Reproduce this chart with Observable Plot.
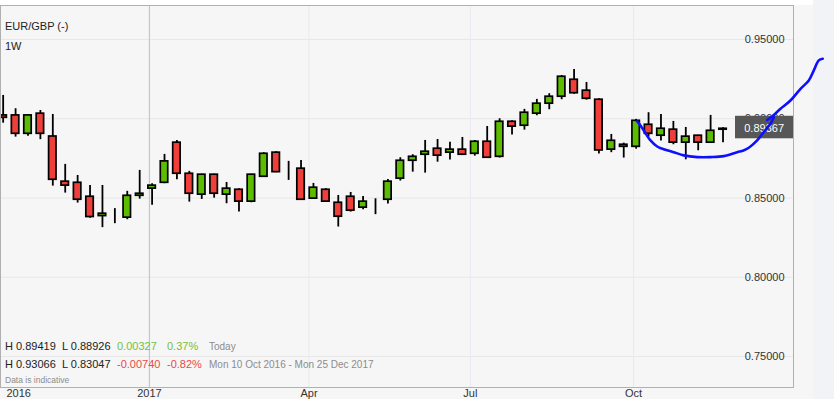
<!DOCTYPE html>
<html><head><meta charset="utf-8">
<script src="https://cdn.jsdelivr.net/npm/d3@7"></script>
<script src="https://cdn.jsdelivr.net/npm/@observablehq/plot@0.6"></script>
<style>
html,body{margin:0;padding:0;}
body{width:834px;height:399px;overflow:hidden;background:#f6f6f6;font-family:"Liberation Sans",Arial,sans-serif;}
#wrap{position:relative;width:834px;height:399px;
 background:linear-gradient(to right, rgba(0,0,0,0) 813px, #f2f3f7 813px), linear-gradient(to bottom, #ffffff 5px, #f6f6f6 5px);}
#wrap svg{position:absolute;left:0;top:0;}
.t{position:absolute;white-space:nowrap;font-size:11px;line-height:13px;color:#222;}
.g{color:#74c23a;} .r{color:#e8484a;} .m{color:#8c8c8c;font-size:10px;}
.s{font-size:8.5px;line-height:10px;color:#8c8c8c;}
</style></head>
<body><div id="wrap">
<div class="t" style="left:5px;top:20px;">EUR/GBP (-)</div>
<div class="t" style="left:5px;top:40px;">1W</div>
<div class="t" style="left:5px;top:340px;">H 0.89419</div>
<div class="t" style="left:62px;top:340px;">L 0.88926</div>
<div class="t g" style="left:117px;top:340px;">0.00327</div>
<div class="t g" style="left:167px;top:340px;">0.37%</div>
<div class="t m" style="left:209px;top:340px;">Today</div>
<div class="t" style="left:5px;top:358px;">H 0.93066</div>
<div class="t" style="left:62px;top:358px;">L 0.83047</div>
<div class="t r" style="left:117px;top:358px;">-0.00740</div>
<div class="t r" style="left:167px;top:358px;">-0.82%</div>
<div class="t m" style="left:209px;top:358px;">Mon 10 Oct 2016 - Mon 25 Dec 2017</div>
<div class="t s" style="left:5px;top:375px;">Data is indicative</div>
</div>
<script>
const weeks = ["2016-10-10","2016-10-17","2016-10-24","2016-10-31","2016-11-07","2016-11-14","2016-11-21","2016-11-28",
"2016-12-05","2016-12-12","2016-12-19","2016-12-26","2017-01-02","2017-01-09","2017-01-16","2017-01-23","2017-01-30",
"2017-02-06","2017-02-13","2017-02-20","2017-02-27","2017-03-06","2017-03-13","2017-03-20","2017-03-27","2017-04-03",
"2017-04-10","2017-04-17","2017-04-24","2017-05-01","2017-05-08","2017-05-15","2017-05-22","2017-05-29","2017-06-05",
"2017-06-12","2017-06-19","2017-06-26","2017-07-03","2017-07-10","2017-07-17","2017-07-24","2017-07-31","2017-08-07",
"2017-08-14","2017-08-21","2017-08-28","2017-09-04","2017-09-11","2017-09-18","2017-09-25","2017-10-02","2017-10-09",
"2017-10-16","2017-10-23","2017-10-30","2017-11-06","2017-11-13","2017-11-20"];
const open  = [.9021,.9021,.8905,.9032,.8888,.8603,.8596,.8508,.8386,.8380,.8376,.8514,.8559,.8596,.8849,.8653,.8521,
.8647,.8521,.8552,.8477,.8634,.8786,.8668,.8685,.8496,.8552,.8470,.8508,.8439,.8493,.8489,.8622,.8735,.8773,
.8811,.8786,.8805,.8779,.8855,.8760,.8981,.8956,.9032,.9095,.9139,.9246,.9177,.9120,.8805,.8836,.8823,.8962,
.8893,.8931,.8849,.8893,.8849,.8931];
const high  = [.9147,.9063,.9024,.9052,.9027,.8712,.8642,.8579,.8579,.8433,.8542,.8674,.8590,.8775,.8863,.8668,.8650,
.8650,.8598,.8559,.8650,.8786,.8792,.8731,.8737,.8592,.8559,.8516,.8535,.8510,.8495,.8617,.8754,.8773,.8863,
.8869,.8851,.8882,.8863,.8951,.9000,.8987,.9059,.9122,.9158,.9273,.9311,.9229,.9126,.8901,.8846,.8996,.9038,
.9027,.8983,.8945,.8895,.9021,.8943];
const low   = [.8972,.8884,.8890,.8868,.8575,.8531,.8468,.8373,.8313,.8338,.8363,.8493,.8455,.8590,.8615,.8474,.8491,
.8499,.8464,.8411,.8470,.8630,.8660,.8611,.8487,.8494,.8475,.8317,.8411,.8426,.8395,.8462,.8607,.8663,.8657,
.8726,.8739,.8773,.8764,.8754,.8752,.8897,.8928,.9019,.9057,.9120,.9155,.9117,.8777,.8786,.8752,.8808,.8884,
.8859,.8836,.8741,.8798,.8847,.8849];
const close = [.9006,.8905,.9021,.8905,.8615,.8578,.8489,.8380,.8401,.8380,.8514,.8527,.8578,.8731,.8653,.8527,.8647,
.8527,.8559,.8477,.8647,.8779,.8663,.8668,.8489,.8565,.8477,.8382,.8420,.8477,.8493,.8603,.8735,.8760,.8792,
.8767,.8805,.8773,.8855,.8754,.8981,.8950,.9038,.9095,.9139,.9265,.9161,.9126,.8800,.8861,.8823,.8987,.8905,
.8937,.8849,.8887,.8849,.8924,.89367];
const yTicks = [0.75, 0.80, 0.85, 0.90, 0.95];
const xTickDates = ["2017-01-01","2017-04-01","2017-07-01","2017-10-01"];
const xTickLabels = ["2017","Apr","Jul","Oct"];
const firstYearLabel = "2016";
const lastPrice = 0.89367;
// hand-drawn annotation (two pen strokes)
const penStroke = [1,1,1,1,1,1,1,1,1,1,1,1,1,1,1,1,1,1, 2,2,2,2,2,2,2,2,2];
const penTime = ["2017-10-03T02:00","2017-10-04T23:00","2017-10-06T19:00","2017-10-10T14:00","2017-10-14T09:00",
"2017-10-18T02:00","2017-10-23T18:00","2017-10-29T09:00","2017-11-05T22:00","2017-11-13T10:00","2017-11-20T22:00",
"2017-11-28T12:00","2017-12-02T01:00","2017-12-05T01:00","2017-12-09T18:00","2017-12-13T12:00","2017-12-17T06:00",
"2017-12-19T03:00",
"2017-12-15T10:00","2017-12-18T05:00","2017-12-22T22:00","2017-12-28T13:00","2018-01-03T05:00","2018-01-07T21:00",
"2018-01-10T17:00","2018-01-13T12:00","2018-01-15T18:00"];
const penValue = [.8983,.8958,.8926,.8863,.8825,.8808,.8789,.8769,.8758,.8758,.8764,.8789,.8800,.8817,.8863,.8916,.8968,.9008,
.8992,.9014,.9063,.9115,.9189,.9241,.9305,.9368,.9378];

const DAY = 864e5;
const candles = weeks.map((w, i) => ({
  date: new Date(Date.parse(w + "T12:00:00Z")),
  open: open[i], high: high[i], low: low[i], close: close[i]
}));
const pen = penTime.map((t, i) => ({date: new Date(Date.parse(t + ":00Z")), value: penValue[i], stroke: penStroke[i]}));
const xTicks = xTickDates.map((d, i) => ({date: new Date(Date.parse(d + "T00:00:00Z")), label: xTickLabels[i]}));
const color = d => d.close > d.open ? "#5cbd00" : d.close < d.open ? "#ee3f3a" : "#000";

const chart = Plot.plot({
  width: 834, height: 399,
  marginLeft: 0, marginRight: 41, marginTop: 5, marginBottom: 12,
  style: {background: "transparent", fontFamily: "'Liberation Sans', Arial, sans-serif", fontSize: "11px", overflow: "visible"},
  x: {type: "utc", domain: [new Date(Date.UTC(2016, 9, 9)), new Date(Date.UTC(2017, 11, 30, 6))], axis: null},
  y: {domain: [0.73045, 0.97144], axis: null},
  marks: [
    Plot.frame({fill: "#f6f6f6", stroke: "none"}),
    Plot.ruleY(yTicks, {stroke: "#e7e7e7", strokeWidth: 1}),
    Plot.ruleX(xTicks.slice(1), {x: "date", stroke: "#e8eaf1", strokeWidth: 1}),
    Plot.ruleX(xTicks.slice(0, 1), {x: "date", stroke: "#c6c6c6", strokeWidth: 1.2}),
    Plot.ruleX(candles, {x: "date", y1: "low", y2: "high", stroke: "#000", strokeWidth: 1.8}),
    Plot.rect(candles, {
      x1: d => new Date(+d.date - 2.1 * DAY), x2: d => new Date(+d.date + 2.1 * DAY),
      y1: "open", y2: "close", fill: color, stroke: "#000", strokeWidth: 1.7
    }),
    Plot.text(yTicks, {y: d => d, frameAnchor: "right", textAnchor: "end", dx: -9, text: d => d.toFixed(5), fill: "#333"}),
    Plot.text(xTicks, {x: "date", frameAnchor: "bottom", dy: 9, text: "label", fill: "#333"}),
    Plot.text([firstYearLabel], {frameAnchor: "bottom-left", textAnchor: "start", dx: 6, dy: 9, text: d => d, fill: "#333"}),
    Plot.frame({stroke: "#b0b0b0", strokeWidth: 1}),
    Plot.line(pen, {x: "date", y: "value", z: "stroke", stroke: "#0f0fff", strokeWidth: 2.6, curve: "catmull-rom", strokeLinecap: "round", strokeLinejoin: "round"})
  ]
});

// current-price label box, placed with the plot's own y scale
const yv = chart.scale("y").apply(lastPrice);
const right = 834 - 41;
const ns = "http://www.w3.org/2000/svg";
const g = document.createElementNS(ns, "g");
const rect = document.createElementNS(ns, "rect");
rect.setAttribute("x", right - 58); rect.setAttribute("y", yv - 12.5);
rect.setAttribute("width", 58); rect.setAttribute("height", 22.5);
rect.setAttribute("fill", "#575757");
const txt = document.createElementNS(ns, "text");
txt.setAttribute("x", right - 9); txt.setAttribute("y", yv);
txt.setAttribute("dy", "0.35em"); txt.setAttribute("text-anchor", "end");
txt.setAttribute("fill", "#fff"); txt.setAttribute("font-size", "11px");
txt.textContent = lastPrice.toFixed(5);
g.appendChild(rect); g.appendChild(txt);
chart.insertBefore(g, chart.lastChild);

document.getElementById("wrap").prepend(chart);
</script>
</body></html>
